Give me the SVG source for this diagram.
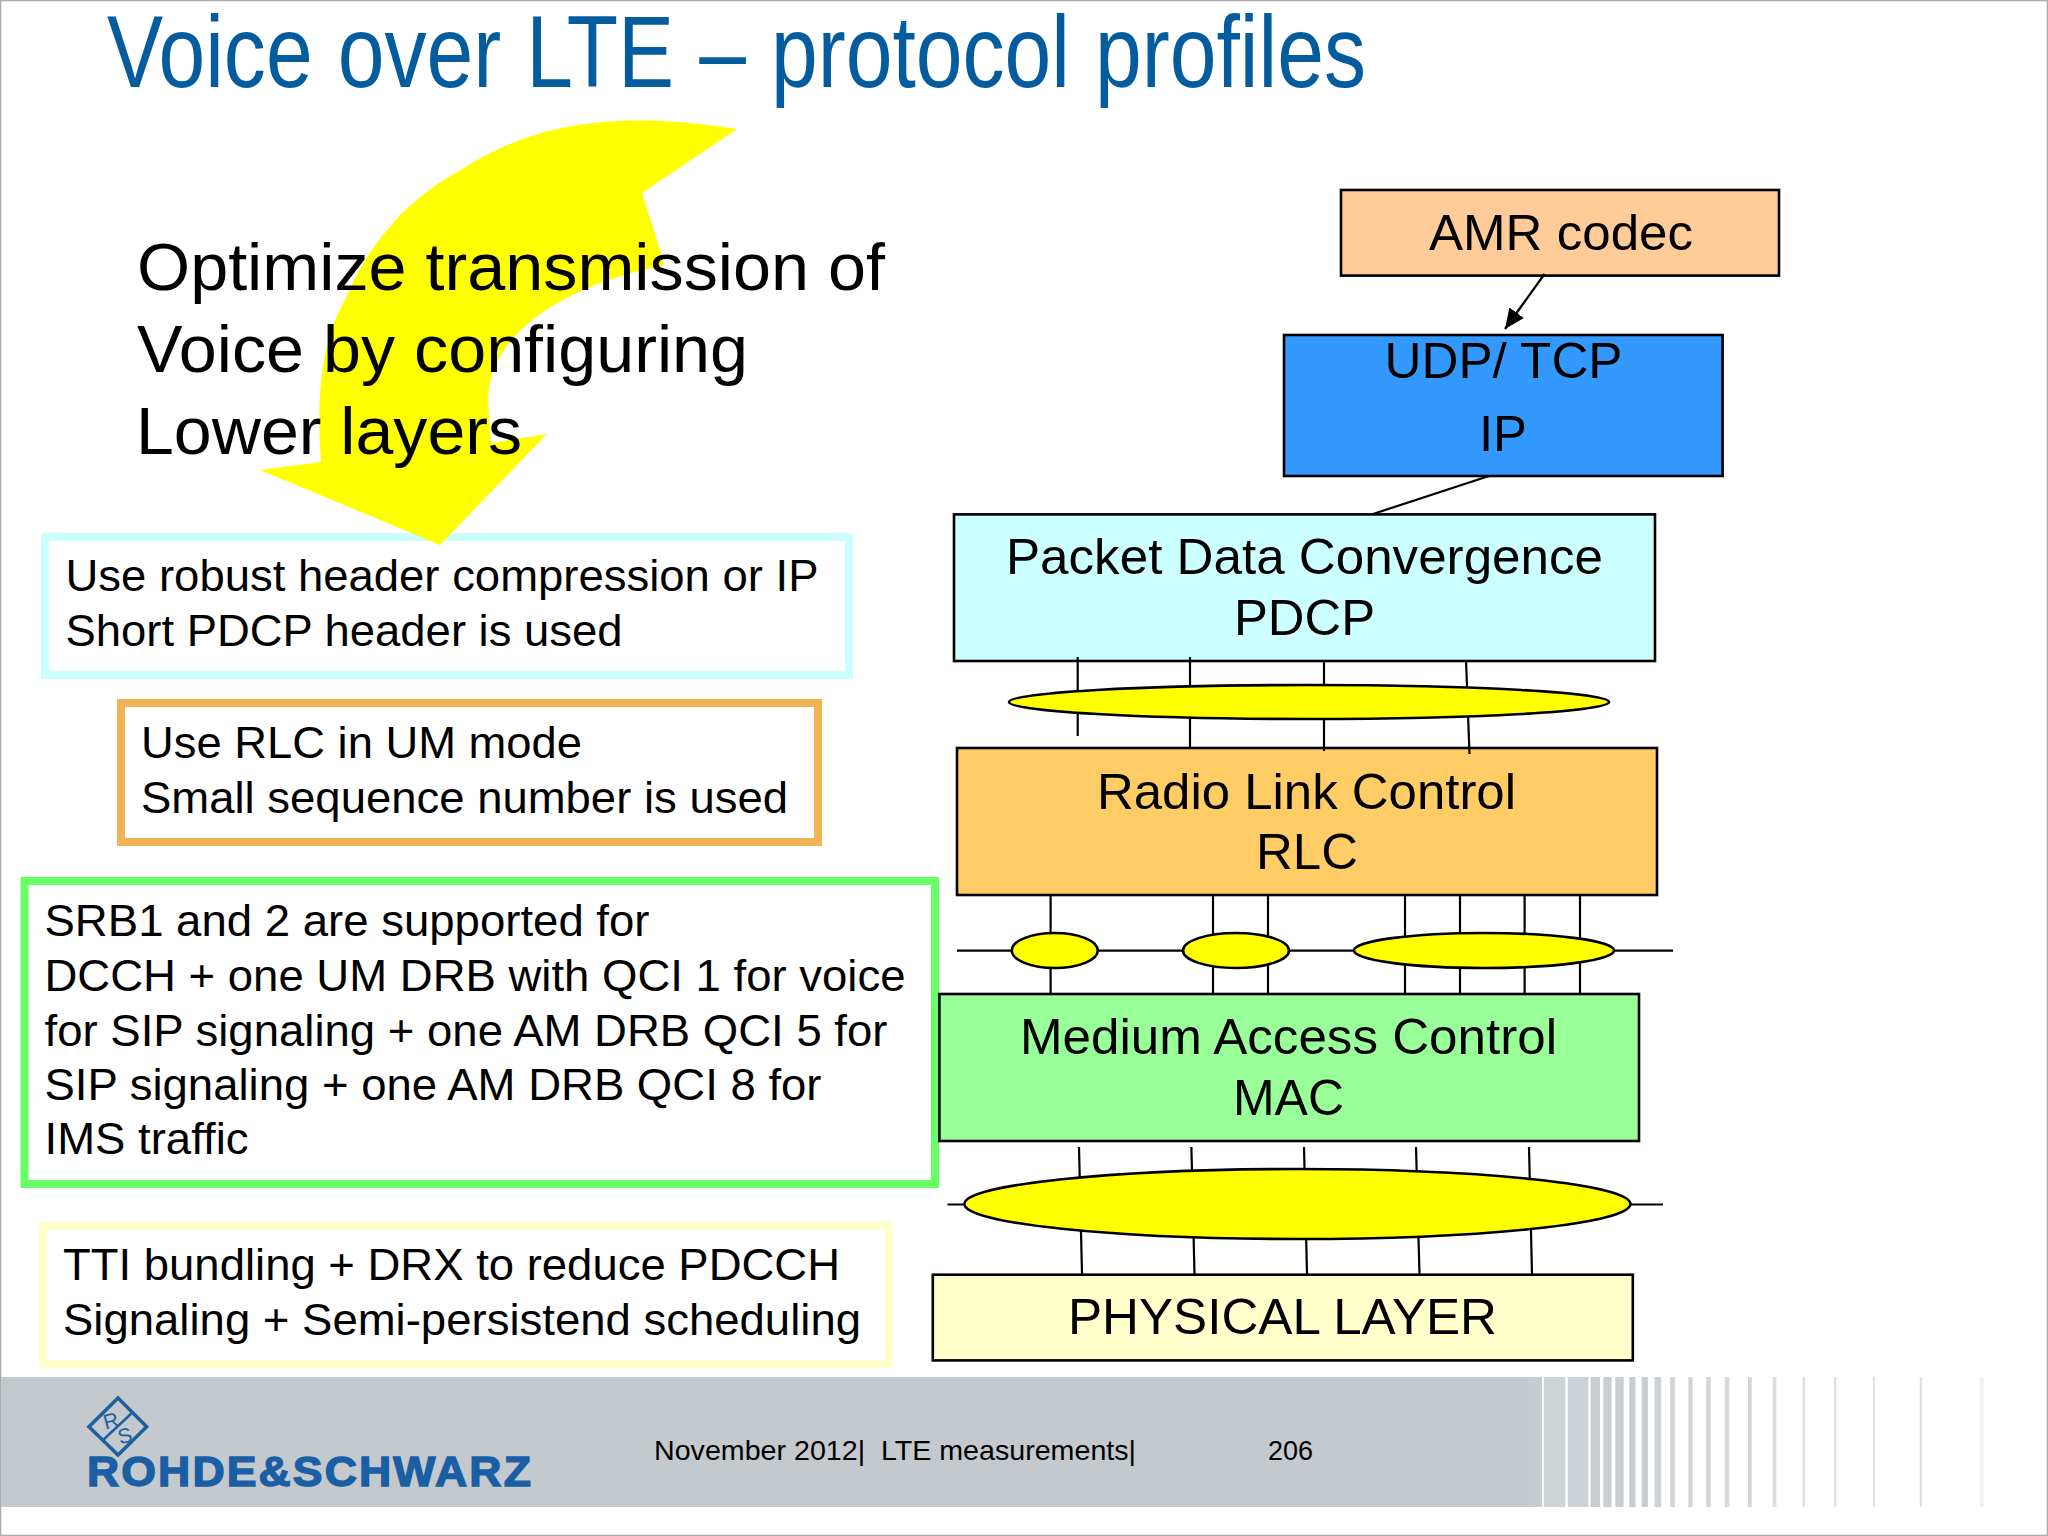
<svg xmlns="http://www.w3.org/2000/svg" width="2048" height="1536" viewBox="0 0 2048 1536">
<style>
text{font-family:"Liberation Sans",Arial,sans-serif;fill:#000;}
.n{font-size:50px;}
.t{font-size:44px;}
.big{font-size:66px;}
.box{stroke:#000;stroke-width:2.6;}
.note{fill:#fff;stroke-width:8;}
.w{stroke:#000;stroke-width:2.2;fill:none;}
.el{fill:#ffff00;stroke:#000;stroke-width:2.6;}
.s{fill:#c9ced3;}
</style>
<defs>
<marker id="ah" markerUnits="userSpaceOnUse" markerWidth="22" markerHeight="20" refX="20" refY="9" orient="auto"><path d="M0,0L20,9L0,18Z" fill="#000"/></marker>
</defs>
<rect width="2048" height="1536" fill="#fff"/>
<rect x="0.5" y="0.5" width="2047" height="1535" fill="none" stroke="#a8acae" stroke-width="1.5"/>

<g id="footer">
<rect x="1" y="1377" width="1527" height="130" fill="#c3c9cd"/>
<rect x="1528" y="1377" width="14" height="130" fill="#c7cdd0"/>
<g id="stripes">
<rect x="1543.8" y="1377" width="21.5" height="130" fill="#ccd4d6"/>
<rect x="1567.8" y="1377" width="20.6" height="130" fill="#ccd2d6"/>
<rect class="s" x="1590.5" y="1377" width="9.5" height="130"/>
<rect class="s" x="1603.3" y="1377" width="8.3" height="130"/>
<rect class="s" x="1615.3" y="1377" width="8.3" height="130"/>
<rect class="s" x="1629.3" y="1377" width="6.2" height="130"/>
<rect class="s" x="1641.7" y="1377" width="6.2" height="130"/>
<rect x="1654.5" y="1377" width="6.6" height="130" fill="#ccd1d5"/>
<rect x="1670.2" y="1377" width="4.6" height="130" fill="#d0d3d7"/>
<rect x="1688.4" y="1377" width="4.2" height="130" fill="#d2d4d8"/>
<rect x="1706.2" y="1377" width="4.5" height="130" fill="#d2d4d8"/>
<rect x="1724.8" y="1377" width="4.5" height="130" fill="#d8dadd"/>
<rect x="1748" y="1377" width="3.7" height="130" fill="#d4d6da"/>
<rect x="1772.7" y="1377" width="3.7" height="130" fill="#dcdde0"/>
<rect x="1802.5" y="1377" width="2.5" height="130" fill="#e0e0e4"/>
<rect x="1833.9" y="1377" width="2.5" height="130" fill="#e2e2e6"/>
<rect x="1873.1" y="1377" width="1.7" height="130" fill="#dcdde0"/>
<rect x="1919.8" y="1377" width="2.1" height="130" fill="#e0e0e4"/>
<rect x="1980.2" y="1377" width="3.3" height="130" fill="#f0eff2"/>
</g>
<g id="logo">
<path d="M118,1398L146.7,1426.7L118,1455L89,1426.7Z" fill="none" stroke="#1f5f9f" stroke-width="3.5"/>
<path d="M102,1441L133,1412" fill="none" stroke="#1f5f9f" stroke-width="2.5"/>
<text x="111" y="1428" font-size="21" text-anchor="middle" style="fill:#1f5f9f" transform="rotate(-15 111 1421)">R</text>
<text x="125" y="1443" font-size="21" text-anchor="middle" style="fill:#1f5f9f" transform="rotate(-15 125 1436)">S</text>
<text x="87" y="1486" font-size="42" font-weight="700" letter-spacing="2" textLength="446" lengthAdjust="spacingAndGlyphs" style="fill:#1a5ea4;stroke:#1a5ea4;stroke-width:1.4">ROHDE&amp;SCHWARZ</text>
</g>
<text x="654" y="1460" font-size="28" textLength="482" lengthAdjust="spacingAndGlyphs" xml:space="preserve">November 2012|  LTE measurements|</text>
<text x="1268" y="1460" font-size="28" textLength="45" lengthAdjust="spacingAndGlyphs">206</text>
</g>

<text id="title" x="107" y="87" font-size="102" word-spacing="2" textLength="1259" lengthAdjust="spacingAndGlyphs" style="fill:#045c9e">Voice over LTE – protocol profiles</text>

<g id="note-pdcp">
<rect class="note" x="45" y="537" width="804" height="138" stroke="#ccffff"/>
<text class="t" x="65.5" y="591" textLength="753" lengthAdjust="spacingAndGlyphs">Use robust header compression or IP</text>
<text class="t" x="65.5" y="646" textLength="557" lengthAdjust="spacingAndGlyphs">Short PDCP header is used</text>
</g>
<g id="note-rlc">
<rect class="note" x="121" y="703" width="697" height="139" stroke="#f0b454"/>
<text class="t" x="141" y="758" textLength="441" lengthAdjust="spacingAndGlyphs">Use RLC in UM mode</text>
<text class="t" x="141" y="813" textLength="647" lengthAdjust="spacingAndGlyphs">Small sequence number is used</text>
</g>
<g id="note-mac">
<rect class="note" x="24.5" y="881" width="910.5" height="303" stroke="#66ff66"/>
<text class="t" x="44.5" y="936" textLength="605" lengthAdjust="spacingAndGlyphs">SRB1 and 2 are supported for</text>
<text class="t" x="44.5" y="990.6" textLength="861" lengthAdjust="spacingAndGlyphs">DCCH + one UM DRB with QCI 1 for voice</text>
<text class="t" x="44.5" y="1045.5" textLength="843" lengthAdjust="spacingAndGlyphs">for SIP signaling + one AM DRB QCI 5 for</text>
<text class="t" x="44.5" y="1100" textLength="777" lengthAdjust="spacingAndGlyphs">SIP signaling + one AM DRB QCI 8 for</text>
<text class="t" x="44.5" y="1154" textLength="204" lengthAdjust="spacingAndGlyphs">IMS traffic</text>
</g>
<g id="note-phy">
<rect class="note" x="43" y="1225.6" width="846" height="138" stroke="#ffffcc"/>
<text class="t" x="63" y="1280" textLength="777" lengthAdjust="spacingAndGlyphs">TTI bundling + DRX to reduce PDCCH</text>
<text class="t" x="63" y="1334.6" textLength="798" lengthAdjust="spacingAndGlyphs">Signaling + Semi-persistend scheduling</text>
</g>

<path id="curved-arrow" fill="#ffff00" d="M440,545L260,470L321,462C316,395 322,340 345,300C372,235 415,195 459,171C515,135 590,105 737,129L642,193L660,250L664,265C590,280 490,320 488,400L491,443L547,434Z"/>
<g id="goal-text">
<text class="big" x="137" y="290" textLength="748" lengthAdjust="spacingAndGlyphs">Optimize transmission of</text>
<text class="big" x="137" y="372" textLength="611" lengthAdjust="spacingAndGlyphs">Voice by configuring</text>
<text class="big" x="136" y="454" textLength="386" lengthAdjust="spacingAndGlyphs">Lower layers</text>
</g>

<g id="amr"><rect class="box" x="1341" y="190" width="438" height="85.6" fill="#ffcc99"/>
<text class="n" x="1429" y="249.6" textLength="264" lengthAdjust="spacingAndGlyphs">AMR codec</text></g>
<g id="udp-ip"><rect class="box" x="1284" y="335" width="438.6" height="141" fill="#3399ff"/>
<text class="n" x="1384.5" y="378" textLength="238" lengthAdjust="spacingAndGlyphs">UDP/ TCP</text>
<text class="n" x="1479" y="451" textLength="48" lengthAdjust="spacingAndGlyphs">IP</text></g>
<g id="pdcp"><rect class="box" x="954" y="514.4" width="701" height="146.6" fill="#ccffff"/>
<text class="n" x="1006" y="574" textLength="597" lengthAdjust="spacingAndGlyphs">Packet Data Convergence</text>
<text class="n" x="1234" y="635" textLength="141" lengthAdjust="spacingAndGlyphs">PDCP</text></g>
<g id="rlc"><rect class="box" x="957" y="748" width="700" height="147" fill="#ffcc66"/>
<text class="n" x="1097" y="808.6" textLength="419" lengthAdjust="spacingAndGlyphs">Radio Link Control</text>
<text class="n" x="1256" y="869" textLength="102" lengthAdjust="spacingAndGlyphs">RLC</text></g>
<g id="mac"><rect class="box" x="939.4" y="994" width="699.6" height="147" fill="#99ff99"/>
<text class="n" x="1020" y="1053.5" textLength="537" lengthAdjust="spacingAndGlyphs">Medium Access Control</text>
<text class="n" x="1233" y="1115" textLength="111" lengthAdjust="spacingAndGlyphs">MAC</text></g>
<g id="phy"><rect class="box" x="932.8" y="1274.7" width="700" height="85.7" fill="#ffffcc"/>
<text class="n" x="1068" y="1334" textLength="429" lengthAdjust="spacingAndGlyphs">PHYSICAL LAYER</text></g>

<g id="connectors">
<line class="w" x1="1544.5" y1="274" x2="1505" y2="329" marker-end="url(#ah)"/>
<line class="w" x1="1489" y1="476" x2="1373" y2="514"/>
<line class="w" x1="1077.7" y1="657" x2="1077.7" y2="736"/>
<line class="w" x1="1190" y1="657" x2="1190" y2="748"/>
<line class="w" x1="1324" y1="660" x2="1324" y2="751"/>
<line class="w" x1="1466" y1="660" x2="1469.5" y2="754"/>
<line class="w" x1="1050.6" y1="895" x2="1050.6" y2="994"/>
<line class="w" x1="1213" y1="895" x2="1213" y2="994"/>
<line class="w" x1="1268" y1="895" x2="1268" y2="994"/>
<line class="w" x1="1405" y1="895" x2="1405" y2="994"/>
<line class="w" x1="1460" y1="895" x2="1460" y2="994"/>
<line class="w" x1="1524.6" y1="895" x2="1524.6" y2="994"/>
<line class="w" x1="1580" y1="895" x2="1580" y2="994"/>
<line class="w" x1="957" y1="950.6" x2="1673" y2="950.6"/>
<line class="w" x1="1079" y1="1147" x2="1082" y2="1274"/>
<line class="w" x1="1191.4" y1="1147" x2="1194.5" y2="1274"/>
<line class="w" x1="1304" y1="1147" x2="1307" y2="1274"/>
<line class="w" x1="1416" y1="1147" x2="1419.5" y2="1274"/>
<line class="w" x1="1529" y1="1147" x2="1532" y2="1274"/>
<line class="w" x1="947.5" y1="1204.5" x2="1663" y2="1204.5"/>
</g>

<g id="channels">
<ellipse class="el" cx="1309" cy="702" rx="300" ry="17"/>
<ellipse class="el" cx="1054.8" cy="950.5" rx="43" ry="17.5"/>
<ellipse class="el" cx="1236" cy="950.5" rx="53" ry="17.5"/>
<ellipse class="el" cx="1484" cy="950.5" rx="130" ry="17.5"/>
<ellipse class="el" cx="1297.4" cy="1204" rx="333" ry="35"/>
</g>
</svg>
